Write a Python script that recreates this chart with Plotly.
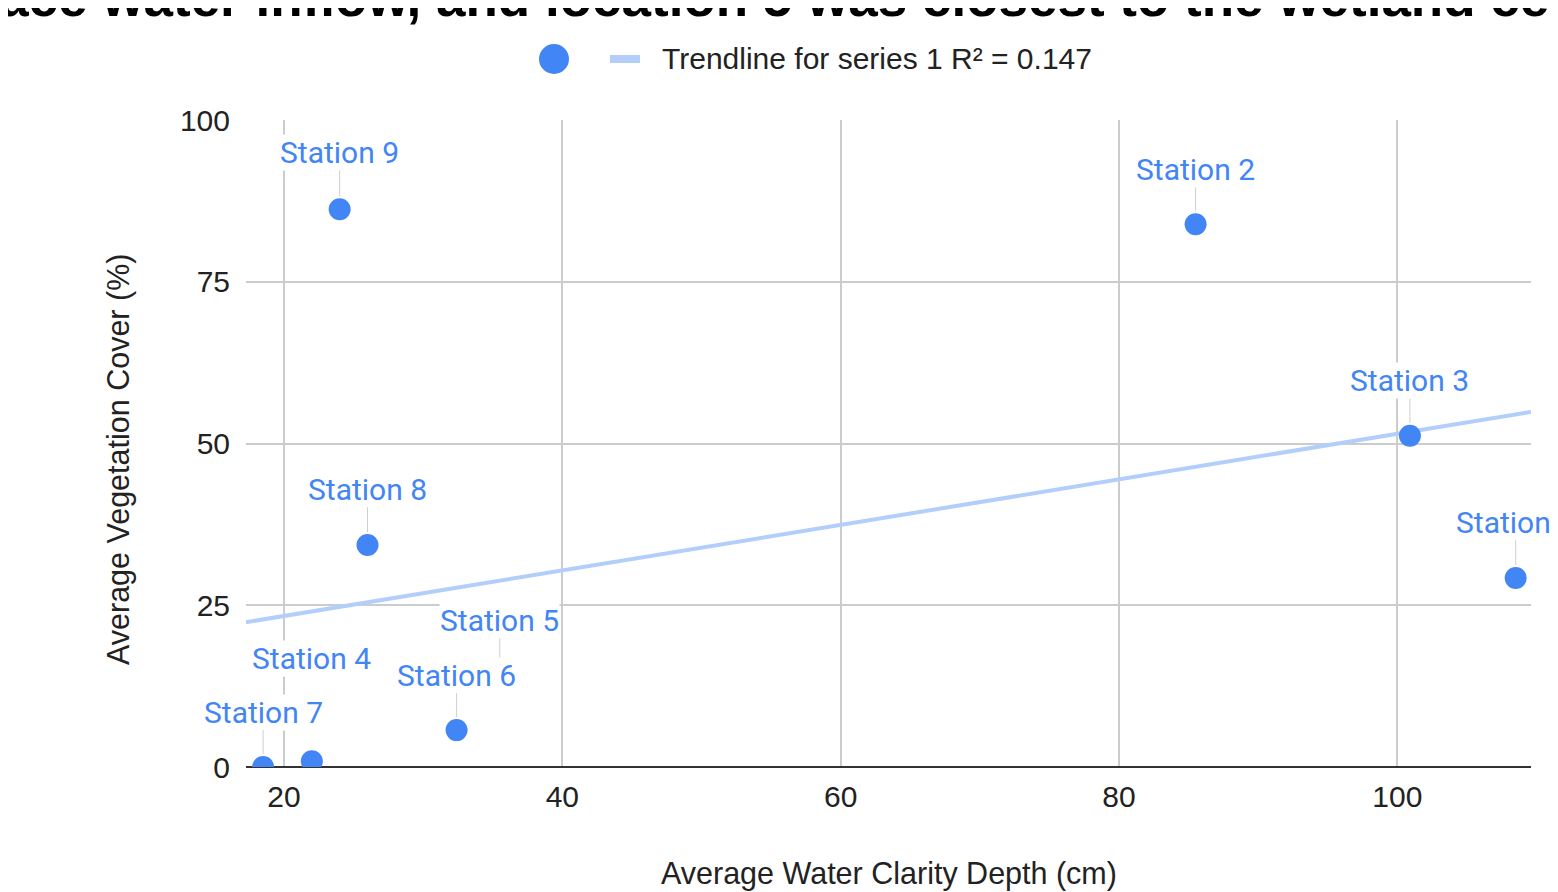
import plotly.graph_objects as go
import numpy as np

# ---------------- data ----------------
stations = ["Station 9", "Station 2", "Station 3", "Station 1", "Station 8",
            "Station 5", "Station 6", "Station 4", "Station 7"]
clarity_cm = [24.0, 85.5, 100.9, 108.5, 26.0, 35.5, 32.4, 22.0, 18.5]
veg_cover = [86.2, 83.9, 51.2, 29.2, 34.3, 14.2, 5.7, 0.9, 0.0]
label_dy = [-57, -55, -55, -56, -56, -55, -55, -103, -55]
label_leader = [True, True, True, True, True, True, True, False, True]

trend_slope = 0.352
trend_intercept = 16.3
r_squared = 0.147

x_ticks = [20, 40, 60, 80, 100]
y_ticks = [0, 25, 50, 75, 100]
x_range = [17.27, 109.6]
y_range = [0, 100]

title_text = "surface water inflow, and location 5 was closest to the wetland center"
x_title = "Average Water Clarity Depth (cm)"
y_title = "Average Vegetation Cover (%)"
legend_text = f"Trendline for series 1 R² = {r_squared}"

# ---------------- layout geometry ----------------
W, H = 1558, 892
OFF = 8                      # page body margin of the html page
PL, PR, PT, PB = 246, 1531, 120, 767   # plot area in screen pixels
PW, PH = PR - PL, PB - PT


def px_x(p):
    return (p - PL) / PW


def px_y(p):
    return (PB - p) / PH


BLUE = "#4285F4"
TREND = "#B3CEFA"
TXT = "#222222"
ARIAL = "Arial, Liberation Sans, sans-serif"

fig = go.Figure()

tx = np.array(x_range)
fig.add_trace(go.Scatter(
    x=tx, y=trend_slope * tx + trend_intercept, mode="lines",
    line=dict(color=TREND, width=4), hoverinfo="skip", showlegend=False))

fig.add_trace(go.Scatter(
    x=clarity_cm, y=veg_cover, mode="markers", text=stations,
    marker=dict(color=BLUE, size=22, line=dict(width=0)),
    cliponaxis=True, showlegend=False))

annotations = []
for name, xv, yv, dy, lead in zip(stations, clarity_cm, veg_cover, label_dy, label_leader):
    annotations.append(dict(
        x=xv, y=yv, xref="x", yref="y", text=name,
        showarrow=True, ax=0, ay=dy, arrowhead=0, arrowwidth=1,
        arrowcolor="#cfcfcf" if lead else "rgba(0,0,0,0)", standoff=13,
        font=dict(family="Roboto, Arial, sans-serif", size=30, color=BLUE),
        bgcolor="white", borderpad=0))

# cropped title
annotations.append(dict(
    x=px_x(-103), y=px_y(29), xref="paper", yref="paper", xanchor="left", yanchor="bottom",
    text=title_text, showarrow=False,
    font=dict(family=ARIAL, size=53, color="black", weight="bold")))

# axis titles
annotations.append(dict(
    x=px_x(889), y=px_y(873), xref="paper", yref="paper", xanchor="center", yanchor="middle",
    text=x_title, showarrow=False, font=dict(family=ARIAL, size=30.5, color=TXT)))
annotations.append(dict(
    x=px_x(118), y=px_y(460), xref="paper", yref="paper", xanchor="center", yanchor="middle",
    text=y_title, textangle=-90, showarrow=False,
    font=dict(family=ARIAL, size=30.5, color=TXT)))

# legend text
annotations.append(dict(
    x=px_x(660), y=px_y(59), xref="paper", yref="paper", xanchor="left", yanchor="middle",
    text=legend_text, showarrow=False, font=dict(family=ARIAL, size=30, color=TXT)))

shapes = [
    dict(type="circle", xref="paper", yref="paper",
         x0=px_x(539), x1=px_x(569), y0=px_y(44), y1=px_y(74),
         fillcolor=BLUE, line=dict(width=0)),
    dict(type="line", xref="paper", yref="paper",
         x0=px_x(610), x1=px_x(640), y0=px_y(59), y1=px_y(59),
         line=dict(color=TREND, width=8)),
]

fig.update_layout(
    width=W, height=H,
    margin=dict(l=PL - OFF, r=W - (PR - OFF), t=PT - OFF, b=H - (PB - OFF), pad=0),
    paper_bgcolor="white", plot_bgcolor="white",
    showlegend=False,
    annotations=annotations, shapes=shapes,
    xaxis=dict(range=x_range, tickvals=x_ticks, showgrid=True, gridcolor="#cccccc", gridwidth=2,
               zeroline=False, showline=False, ticks="outside", ticklen=3,
               tickcolor="rgba(0,0,0,0)",
               tickfont=dict(family=ARIAL, size=30, color=TXT)),
    yaxis=dict(range=y_range, tickvals=y_ticks, showgrid=True, gridcolor="#cccccc", gridwidth=2,
               zeroline=True, zerolinecolor="#333333", zerolinewidth=2, showline=False,
               ticks="outside", ticklen=9, tickcolor="rgba(0,0,0,0)",
               tickfont=dict(family=ARIAL, size=30, color=TXT)),
)

fig.write_html("out.html")
